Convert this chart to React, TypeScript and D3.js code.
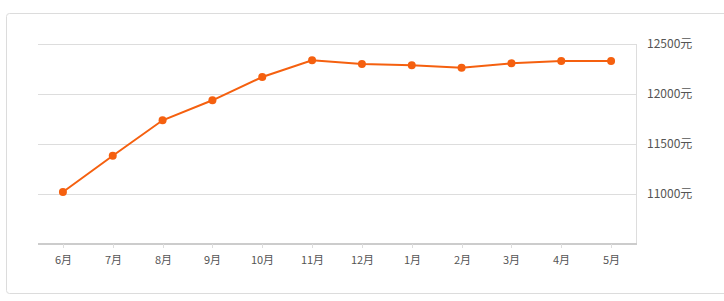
import React from "react";
import * as d3 from "d3";

const categories = ["6月", "7月", "8月", "9月", "10月", "11月", "12月", "1月", "2月", "3月", "4月", "5月"];
const values = [11020, 11383, 11737, 11937, 12170, 12337, 12300, 12287, 12263, 12307, 12330, 12330];
const yTicks = [11000, 11500, 12000, 12500];
const yDomain = [10500, 12500];

const W = 724;
const H = 301;
const left = 38;
const right = 636;
const top = 44;
const bottom = 244;
const color = "#f5600f";
const font = "'Noto Sans CJK SC', 'Noto Sans', sans-serif";

export default function App() {
  const x = d3.scaleBand<string>().domain(categories).range([left, right]);
  const y = d3.scaleLinear().domain(yDomain).range([bottom, top]);
  const line = d3
    .line<number>()
    .x((_, i) => (x(categories[i]) as number) + x.bandwidth() / 2)
    .y((d) => y(d));

  return (
    <svg
      width={W}
      height={H}
      style={{ position: "absolute", left: 0, top: 0, background: "#fff" }}
    >
      <rect x={6.5} y={13.5} width={730} height={280} rx={3} fill="#fff" stroke="#dcdcdc" />
      {yTicks.map((t) => (
        <g key={t}>
          <line x1={left} x2={right} y1={Math.round(y(t)) + 0.5} y2={Math.round(y(t)) + 0.5} stroke="#dddddd" />
          <text
            x={647}
            y={y(t)}
            dy="0.35em"
            fontSize={12}
            fill="#555"
            fontFamily={font}
          >
            {t}元
          </text>
        </g>
      ))}
      <line x1={right + 0.5} x2={right + 0.5} y1={y(yDomain[1])} y2={bottom} stroke="#dddddd" />
      <line x1={left} x2={right + 1} y1={bottom} y2={bottom} stroke="#cccccc" strokeWidth={2} />
      {categories.map((c) => {
        const cx = Math.round((x(c) as number) + x.bandwidth() / 2) + 0.5;
        return (
          <g key={c}>
            <line x1={cx} x2={cx} y1={bottom} y2={bottom + 4} stroke="#dddddd" />
            <text
              x={cx}
              y={260}
              dy="0.35em"
              textAnchor="middle"
              fontSize={11}
              fill="#555"
              fontFamily={font}
            >
              {c}
            </text>
          </g>
        );
      })}
      <path d={line(values) || ""} fill="none" stroke={color} strokeWidth={2} />
      {values.map((v, i) => (
        <circle
          key={i}
          cx={(x(categories[i]) as number) + x.bandwidth() / 2}
          cy={y(v)}
          r={4}
          fill={color}
        />
      ))}
    </svg>
  );
}
